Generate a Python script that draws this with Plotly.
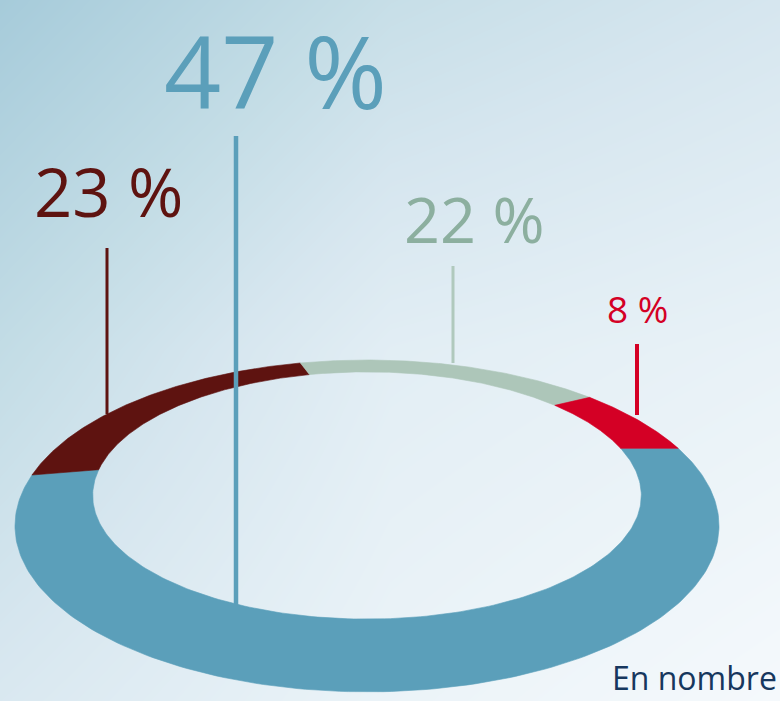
import numpy as np
import plotly.graph_objects as go

# ---- data ----
segments = ["Segment A", "Segment B", "Segment C", "Segment D"]
values = [47, 23, 22, 8]
value_labels = ["47 %", "23 %", "22 %", "8 %"]
seg_colors = ["#5b9fba", "#5e1310", "#adc6b9", "#d40025"]
text_colors = ["#5b9fba", "#5e1310", "#8caf9f", "#d40025"]
line_colors = ["#5b9fba", "#5e1310", "#b0c9bd", "#d40025"]
note_text = "En nombre"

# ---- perspective ring geometry (styling) ----
CX, CY0, F, G, D = 367.0, 170.8, 666.0, 594.0, 2.14
R_OUT, R_IN = 1.0, 0.815
START_ANGLE = 0.0


def project(phi_deg, R):
    p = np.radians(phi_deg)
    depth = D + R * np.sin(p)
    return CX + F * R * np.cos(p) / depth, CY0 + G / depth


fig = go.Figure()

# background gradient
bg_x = [0, 390, 780]
bg_y = [0, 350, 701]
bg_z = [[0.0, 0.38, 0.55],
        [0.33, 0.72, 0.82],
        [0.6, 0.86, 1.0]]
fig.add_trace(go.Heatmap(
    x=bg_x, y=bg_y, z=bg_z, zsmooth="best", showscale=False, hoverinfo="skip",
    zmin=0, zmax=1,
    colorscale=[[0, "#a6cbda"], [0.35, "#c4dde6"], [0.55, "#d6e6ef"],
                [0.75, "#e4eff5"], [1, "#f5f9fc"]]))

# ring segments
total = float(sum(values))
start = START_ANGLE
for name, v, col in zip(segments, values, seg_colors):
    span = 360.0 * v / total
    a0, a1 = start, start - span
    phis = np.linspace(a0, a1, 200)
    xo, yo = project(phis, R_OUT)
    xi, yi = project(phis[::-1], R_IN)
    xs = np.concatenate([xo, xi, xo[:1]])
    ys = np.concatenate([yo, yi, yo[:1]])
    fig.add_trace(go.Scatter(x=xs, y=ys, fill="toself", fillcolor=col, mode="lines",
                             line=dict(color=col, width=0.6), name=name,
                             hoverinfo="name", showlegend=False))
    start = a1

# leader lines and labels (layout positions)
leaders = [  # x, y_top, y_bottom, width
    (236, 136, 607, 4.5),
    (107, 248, 414, 3),
    (453, 266, 363, 3),
    (637, 344, 415, 4),
]
label_pos = [  # x center, y, font size, y anchor
    (275, 0, 100, "top"),
    (108, 191, 67, "middle"),
    (474, 218, 63, "middle"),
    (637, 308, 37, "middle"),
]
for (lx, y0, y1, w), col in zip(leaders, line_colors):
    fig.add_shape(type="line", x0=lx, x1=lx, y0=y0, y1=y1, xref="x", yref="y",
                  line=dict(color=col, width=w), layer="above")
for txt, (tx, ty, fs, ya), col in zip(value_labels, label_pos, text_colors):
    fig.add_annotation(x=tx, y=ty, xref="x", yref="y", text=txt, showarrow=False,
                       xanchor="center", yanchor=ya,
                       font=dict(family="Open Sans", size=fs, color=col))

fig.add_annotation(x=779, y=701, xref="x", yref="y", text=note_text, showarrow=False,
                   xanchor="right", yanchor="bottom",
                   font=dict(family="Open Sans", size=32, color="#17375e"))

fig.update_xaxes(range=[0, 780], visible=False, fixedrange=True)
fig.update_yaxes(range=[701, 0], visible=False, fixedrange=True)
fig.update_layout(width=780, height=701, margin=dict(l=0, r=0, t=0, b=0),
                  paper_bgcolor="#e4eff5", plot_bgcolor="#e4eff5", showlegend=False)

fig.write_html("out.html")
